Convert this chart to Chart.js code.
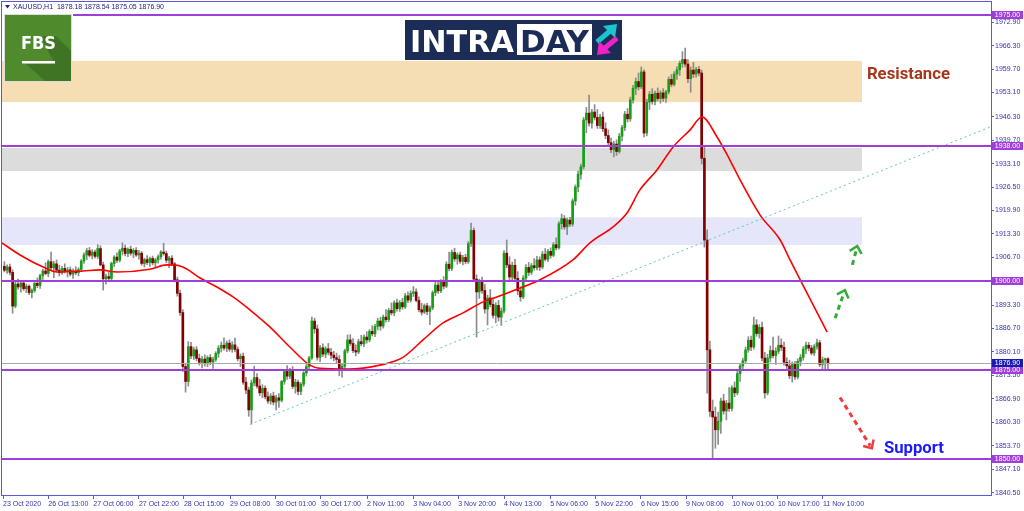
<!DOCTYPE html>
<html>
<head>
<meta charset="utf-8">
<script src="https://cdn.jsdelivr.net/npm/chart.js@4.4.1/dist/chart.umd.min.js"></script>
<style>
html, body { margin: 0; padding: 0; background: #fff; }
</style>
</head>
<body>
<canvas id="xauChart" width="1024" height="511"></canvas>
<script>
// XAUUSD H1, 23 Oct 2020 -> 11 Nov 2020, one entry per hourly bar
const opens = [
1904.2,1903.1,1904.0,1902.5,1893.0,1899.2,1898.4,1899.5,1897.9,1898.6,
1896.8,1897.4,1899.4,1898.8,1901.6,1902.9,1902.2,1905.5,1903.8,1904.9,
1903.1,1902.4,1903.6,1902.8,1903.2,1902.0,1902.9,1902.4,1903.3,1905.7,
1907.4,1908.6,1907.3,1908.2,1907.0,1909.2,1904.6,1900.7,1901.3,1900.8,
1905.0,1906.8,1905.9,1908.5,1909.3,1907.8,1909.0,1907.9,1908.7,1907.4,
1907.9,1905.0,1906.1,1905.3,1906.4,1905.2,1906.0,1906.9,1908.2,1907.8,
1905.9,1906.5,1904.9,1900.4,1896.6,1891.2,1876.0,1871.8,1881.6,1879.0,
1880.7,1878.3,1877.2,1878.1,1876.8,1878.5,1877.3,1878.0,1879.7,1881.2,
1882.0,1881.2,1882.6,1880.9,1882.1,1880.8,1878.2,1878.9,1871.6,1869.4,
1863.8,1871.4,1872.9,1870.5,1868.6,1869.9,1867.5,1866.3,1867.7,1866.0,
1867.2,1866.5,1871.8,1874.6,1873.3,1875.0,1870.4,1871.6,1869.0,1871.0,
1874.2,1876.0,1878.4,1888.8,1886.6,1878.6,1881.3,1879.5,1881.0,1880.0,
1879.2,1878.5,1878.0,1875.0,1876.1,1880.4,1883.5,1882.5,1880.5,1880.1,
1883.0,1882.4,1884.3,1883.5,1885.9,1885.2,1887.3,1888.8,1887.4,1889.9,
1889.2,1891.8,1891.1,1893.9,1892.3,1894.0,1892.8,1895.9,1894.7,1896.6,
1897.0,1894.6,1892.0,1891.3,1893.1,1891.5,1892.5,1896.8,1898.9,1897.3,
1899.8,1898.6,1904.8,1903.6,1908.1,1906.3,1907.4,1905.6,1906.7,1905.5,
1910.6,1914.3,1900.6,1897.0,1899.7,1897.4,1892.2,1895.3,1893.5,1890.4,
1893.2,1889.9,1891.6,1907.9,1904.6,1901.2,1904.5,1900.8,1897.3,1895.6,
1900.9,1903.9,1902.5,1904.4,1903.8,1906.0,1904.0,1907.6,1906.2,1908.4,
1907.3,1910.3,1909.4,1916.2,1917.6,1915.3,1917.2,1916.1,1922.6,1926.5,
1930.1,1932.2,1945.4,1947.3,1944.5,1947.6,1946.1,1943.8,1946.2,1942.9,
1941.0,1939.0,1937.0,1938.6,1936.5,1940.8,1943.2,1947.0,1945.7,1951.0,
1954.3,1956.2,1954.7,1958.9,1941.7,1950.4,1952.6,1950.6,1952.9,1951.4,
1953.0,1951.5,1953.3,1956.8,1955.4,1958.3,1959.5,1961.3,1962.4,1961.1,
1957.0,1959.4,1958.3,1959.6,1958.6,1934.6,1911.6,1880.7,1863.4,1861.8,
1858.2,1860.6,1866.3,1863.5,1865.7,1864.2,1870.0,1868.6,1874.0,1876.2,
1877.6,1880.7,1883.4,1881.5,1887.7,1885.3,1887.0,1878.4,1868.6,1878.4,
1880.5,1879.1,1880.3,1882.0,1881.4,1877.2,1876.2,1873.4,1876.6,1873.1,
1877.5,1878.6,1880.9,1882.0,1881.2,1879.8,1881.6,1882.7,1876.6,1877.9,
1878.18
];
const highs = [
1905.5,1904.6,1904.8,1903.2,1899.8,1900.6,1899.9,1900.2,1899.2,1899.0,
1897.9,1899.8,1900.9,1902.0,1903.4,1905.2,1906.0,1908.2,1905.6,1906.0,
1904.5,1904.2,1904.9,1903.9,1904.0,1903.5,1904.1,1903.8,1906.1,1908.0,
1909.3,1909.5,1908.9,1908.8,1910.3,1910.0,1905.4,1902.0,1902.5,1905.4,
1907.2,1908.0,1909.0,1910.8,1910.2,1909.4,1909.9,1909.2,1909.5,1908.7,
1908.4,1906.5,1907.2,1906.8,1907.1,1906.5,1907.4,1908.6,1910.7,1908.5,
1907.0,1907.2,1905.3,1901.2,1897.5,1892.0,1876.8,1883.0,1882.8,1881.4,
1881.6,1879.5,1878.9,1879.3,1879.0,1879.4,1878.7,1880.2,1881.9,1882.9,
1884.1,1883.2,1883.5,1883.0,1884.0,1881.5,1879.6,1879.8,1873.0,1870.2,
1872.2,1876.1,1874.0,1872.4,1870.9,1870.6,1868.9,1868.4,1868.8,1867.9,
1868.4,1872.1,1875.2,1876.3,1875.5,1876.0,1872.4,1872.2,1871.5,1874.6,
1876.6,1878.9,1889.9,1889.6,1887.7,1882.0,1882.4,1881.6,1882.5,1881.1,
1880.3,1879.8,1879.1,1876.8,1880.9,1884.9,1885.0,1883.9,1882.1,1883.7,
1884.8,1884.9,1885.8,1886.4,1887.5,1887.9,1889.6,1889.9,1890.5,1892.0,
1892.4,1893.9,1894.5,1895.0,1894.6,1895.2,1896.6,1897.0,1897.3,1898.5,
1897.9,1895.6,1893.8,1893.6,1893.8,1893.1,1897.3,1899.7,1900.0,1900.5,
1901.3,1905.5,1908.2,1908.8,1909.3,1908.0,1908.2,1907.3,1907.6,1911.2,
1916.4,1915.0,1901.8,1900.6,1901.2,1899.1,1896.1,1897.7,1895.0,1894.0,
1894.6,1892.5,1908.6,1911.6,1906.9,1905.4,1906.2,1902.7,1898.5,1901.6,
1904.7,1905.3,1905.0,1906.4,1907.0,1906.9,1908.4,1909.2,1909.0,1909.4,
1910.9,1912.2,1916.8,1918.9,1918.5,1917.8,1918.0,1923.2,1927.1,1931.0,
1933.0,1946.1,1948.9,1952.4,1948.4,1949.7,1948.3,1947.0,1947.6,1944.6,
1942.6,1940.3,1939.4,1939.8,1941.6,1943.9,1947.8,1948.6,1951.8,1955.1,
1957.2,1958.6,1960.3,1959.5,1951.2,1953.4,1954.2,1953.5,1954.4,1953.6,
1954.2,1953.7,1957.5,1958.2,1959.0,1960.4,1962.0,1964.6,1965.6,1962.4,
1960.3,1961.6,1960.2,1960.5,1959.4,1938.0,1914.5,1883.2,1866.6,1864.6,
1863.2,1867.1,1868.2,1866.5,1870.1,1870.6,1871.7,1874.8,1876.9,1878.4,
1881.5,1884.4,1884.6,1889.9,1889.2,1887.8,1888.5,1880.0,1879.5,1881.8,
1884.3,1881.3,1884.6,1883.8,1882.9,1878.5,1877.8,1877.3,1877.5,1878.2,
1879.4,1881.6,1882.9,1882.8,1882.0,1882.2,1883.7,1883.4,1878.7,1878.4,
1878.54
];
const lows = [
1902.6,1902.2,1901.8,1891.0,1892.5,1897.8,1896.9,1897.4,1896.8,1896.2,
1895.3,1896.9,1898.2,1898.0,1900.5,1901.8,1901.3,1903.2,1901.0,1902.6,
1901.5,1901.9,1902.3,1901.2,1901.5,1900.8,1901.9,1901.5,1902.8,1905.0,
1906.1,1906.8,1906.3,1906.5,1906.4,1904.3,1897.5,1899.2,1900.0,1900.4,
1904.1,1905.2,1905.4,1907.4,1907.1,1906.9,1907.3,1906.6,1907.0,1906.2,
1904.5,1904.0,1904.7,1904.2,1904.6,1903.9,1905.1,1906.2,1907.3,1905.2,
1903.8,1904.4,1899.8,1895.8,1890.4,1874.6,1868.8,1870.5,1878.2,1878.0,
1877.6,1876.4,1875.6,1876.1,1876.0,1876.5,1875.5,1877.4,1878.6,1880.1,
1880.6,1880.2,1880.3,1880.0,1880.1,1877.6,1876.0,1871.0,1868.4,1862.0,
1859.8,1870.6,1869.9,1867.8,1867.2,1866.9,1865.6,1865.4,1865.2,1863.8,
1864.5,1866.0,1871.0,1872.4,1872.6,1869.8,1868.5,1868.0,1868.1,1870.4,
1873.3,1875.2,1878.0,1885.4,1877.8,1877.4,1878.8,1878.5,1879.3,1878.2,
1877.6,1876.9,1873.4,1873.0,1875.4,1879.8,1881.9,1879.9,1879.0,1879.6,
1881.8,1881.6,1882.6,1882.9,1884.6,1884.4,1886.3,1886.2,1886.8,1888.5,
1888.6,1890.5,1890.3,1891.6,1891.5,1892.1,1892.3,1894.0,1894.1,1895.7,
1894.2,1891.4,1890.5,1890.9,1890.6,1887.8,1892.0,1895.9,1896.6,1896.8,
1897.8,1898.2,1902.9,1903.0,1905.6,1904.8,1905.0,1904.6,1904.9,1905.0,
1909.8,1899.9,1884.3,1895.2,1896.6,1891.0,1887.7,1892.8,1889.6,1888.3,
1888.8,1887.6,1891.0,1903.8,1900.1,1900.4,1900.0,1896.2,1894.4,1895.1,
1900.2,1901.6,1901.9,1903.1,1903.2,1903.0,1903.5,1905.7,1905.5,1906.5,
1906.9,1908.8,1909.0,1914.7,1914.6,1913.1,1915.4,1915.5,1921.4,1925.2,
1928.7,1931.6,1941.8,1943.6,1943.1,1945.4,1943.0,1943.0,1942.1,1940.1,
1938.2,1936.2,1935.0,1935.4,1936.0,1939.5,1942.4,1944.8,1945.0,1950.1,
1952.5,1953.8,1954.2,1940.6,1940.9,1948.3,1949.8,1949.6,1950.7,1950.1,
1950.6,1950.3,1952.7,1954.7,1954.9,1956.8,1957.9,1960.2,1960.3,1955.9,
1953.2,1957.3,1957.4,1957.8,1933.0,1909.6,1868.5,1862.0,1850.3,1853.0,
1854.1,1857.2,1862.6,1861.0,1863.4,1863.5,1867.5,1868.0,1871.8,1875.2,
1876.9,1880.0,1880.5,1880.9,1884.5,1884.0,1877.6,1867.1,1868.0,1877.3,
1878.4,1876.6,1879.6,1880.5,1876.4,1875.0,1872.6,1871.6,1872.4,1872.5,
1876.2,1877.8,1879.6,1880.4,1879.3,1879.1,1880.9,1876.0,1875.1,1874.8,
1875.05
];
const closes = [
1903.1,1904.0,1902.5,1893.0,1899.2,1898.4,1899.5,1897.9,1898.6,1896.8,
1897.4,1899.4,1898.8,1901.6,1902.9,1902.2,1905.5,1903.8,1904.9,1903.1,
1902.4,1903.6,1902.8,1903.2,1902.0,1902.9,1902.4,1903.3,1905.7,1907.4,
1908.6,1907.3,1908.2,1907.0,1909.2,1904.6,1900.7,1901.3,1900.8,1905.0,
1906.8,1905.9,1908.5,1909.3,1907.8,1909.0,1907.9,1908.7,1907.4,1907.9,
1905.0,1906.1,1905.3,1906.4,1905.2,1906.0,1906.9,1908.2,1907.8,1905.9,
1906.5,1904.9,1900.4,1896.6,1891.2,1876.0,1871.8,1881.6,1879.0,1880.7,
1878.3,1877.2,1878.1,1876.8,1878.5,1877.3,1878.0,1879.7,1881.2,1882.0,
1881.2,1882.6,1880.9,1882.1,1880.8,1878.2,1878.9,1871.6,1869.4,1863.8,
1871.4,1872.9,1870.5,1868.6,1869.9,1867.5,1866.3,1867.7,1866.0,1867.2,
1866.5,1871.8,1874.6,1873.3,1875.0,1870.4,1871.6,1869.0,1871.0,1874.2,
1876.0,1878.4,1888.8,1886.6,1878.6,1881.3,1879.5,1881.0,1880.0,1879.2,
1878.5,1878.0,1875.0,1876.1,1880.4,1883.5,1882.5,1880.5,1880.1,1883.0,
1882.4,1884.3,1883.5,1885.9,1885.2,1887.3,1888.8,1887.4,1889.9,1889.2,
1891.8,1891.1,1893.9,1892.3,1894.0,1892.8,1895.9,1894.7,1896.6,1897.0,
1894.6,1892.0,1891.3,1893.1,1891.5,1892.5,1896.8,1898.9,1897.3,1899.8,
1898.6,1904.8,1903.6,1908.1,1906.3,1907.4,1905.6,1906.7,1905.5,1910.6,
1914.3,1900.6,1897.0,1899.7,1897.4,1892.2,1895.3,1893.5,1890.4,1893.2,
1889.9,1891.6,1907.9,1904.6,1901.2,1904.5,1900.8,1897.3,1895.6,1900.9,
1903.9,1902.5,1904.4,1903.8,1906.0,1904.0,1907.6,1906.2,1908.4,1907.3,
1910.3,1909.4,1916.2,1917.6,1915.3,1917.2,1916.1,1922.6,1926.5,1930.1,
1932.2,1945.4,1947.3,1944.5,1947.6,1946.1,1943.8,1946.2,1942.9,1941.0,
1939.0,1937.0,1938.6,1936.5,1940.8,1943.2,1947.0,1945.7,1951.0,1954.3,
1956.2,1954.7,1958.9,1941.7,1950.4,1952.6,1950.6,1952.9,1951.4,1953.0,
1951.5,1953.3,1956.8,1955.4,1958.3,1959.5,1961.3,1962.4,1961.1,1957.0,
1959.4,1958.3,1959.6,1958.6,1934.6,1911.6,1880.7,1863.4,1861.8,1858.2,
1860.6,1866.3,1863.5,1865.7,1864.2,1870.0,1868.6,1874.0,1876.2,1877.6,
1880.7,1883.4,1881.5,1887.7,1885.3,1887.0,1878.4,1868.6,1878.4,1880.5,
1879.1,1880.3,1882.0,1881.4,1877.2,1876.2,1873.4,1876.6,1873.1,1877.5,
1878.6,1880.9,1882.0,1881.2,1879.8,1881.6,1882.7,1876.6,1877.9,1878.2,
1876.90
];

// red moving average, sampled along the curve (bar index, price)
const maIdx = [-0.9, 5.7, 14.1, 19.2, 28.6, 34.8, 41, 53, 59.2, 64, 66.5, 71.3, 77.4, 83.3, 89.5, 96.8, 104, 111.3, 115, 124.8, 136.8, 145.2, 152.5, 159.8, 167.1, 174.4, 179.4, 184.2, 195.1, 207.1, 213.3, 221.7, 226.8, 231.5, 237.7, 243.6, 249.8, 254.1, 259.6, 264.3, 268, 275.3, 282.6, 286.2, 289.9, 299.7];
const maVal = [1910.8, 1907.4, 1904.0, 1902.6, 1902.9, 1903.2, 1902.6, 1903.4, 1904.6, 1904.3, 1903.4, 1900.9, 1898.4, 1895.6, 1891.9, 1887.1, 1881.5, 1876.4, 1875.5, 1875.3, 1876.4, 1878.6, 1883.5, 1888.3, 1891.1, 1894.2, 1895.6, 1897.0, 1900.4, 1906.0, 1910.8, 1915.3, 1919.2, 1925.7, 1931.3, 1937.8, 1942.6, 1946.2, 1940.6, 1934.1, 1928.5, 1918.6, 1911.6, 1906.0, 1900.4, 1885.7];

// dotted trend line (bar index, price)
const trendIdx = [89.5, 359.4];
const trendVal = [1859.75, 1943.5];

// axis ticks
const xTickPos = [-0.5, 16.0, 32.4, 49.0, 65.4, 82.2, 98.9, 115.3, 132.1, 148.9, 165.3, 182.0, 198.8, 215.2, 231.9, 248.3, 265.1, 281.8, 298.2];
const xTickLabels = ['23 Oct 2020', '26 Oct 13:00', '27 Oct 06:00', '27 Oct 22:00', '28 Oct 15:00', '29 Oct 08:00', '30 Oct 01:00', '30 Oct 17:00', '2 Nov 11:00', '3 Nov 04:00', '3 Nov 20:00', '4 Nov 13:00', '5 Nov 06:00', '5 Nov 22:00', '6 Nov 15:00', '9 Nov 08:00', '10 Nov 01:00', '10 Nov 17:00', '11 Nov 10:00'];
const yTicks = [1972.90, 1966.30, 1959.70, 1953.10, 1946.30, 1939.70, 1933.10, 1926.50, 1919.90, 1913.30, 1906.70, 1900.10, 1893.30, 1886.70, 1880.10, 1873.50, 1866.90, 1860.30, 1853.70, 1847.10, 1840.50];

// horizontal levels, zones, bid
const levels = [1975.00, 1938.00, 1900.00, 1875.00, 1850.00];
const levelStartIdx = [25, null, null, null, null];
const zoneLo = [1950.4, 1931.0, 1910.2];
const zoneHi = [1962.0, 1937.5, 1918.0];
const zoneColors = ['rgb(245,222,179)', 'rgb(220,220,220)', 'rgb(230,230,250)'];
const zoneEndIdx = 312.4;
const bidPrice = 1876.90;

// dashed arrows: [fromIdx, fromPrice, toIdx, toPrice]
const arrowsUp = [[302.6, 1889.6, 306.2, 1897.5], [308.9, 1904.6, 310.7, 1909.9]];
const arrowsDown = [[304.4, 1867.3, 316.0, 1853.0]];

const axisColor = '#5a5ad2';
const textColor = '#3434b4';
const levelColor = '#9f3fd9';
const bullColor = '#14a014';
const bearColor = '#820000';
const wickColor = '#8c8c8c';

const wickData = closes.map((c, i) => ({ x: i, y: [lows[i], highs[i]] }));
const bodyData = closes.map((c, i) => ({ x: i, y: [opens[i], c] }));
const bodyColors = closes.map((c, i) => (c >= opens[i] ? bullColor : bearColor));

function drawArrow(c, x0, y0, x1, y1, color, headAng) {
    const ang = Math.atan2(y1 - y0, x1 - x0);
    c.save();
    c.strokeStyle = color;
    c.lineWidth = 3;
    c.setLineDash([5, 4]);
    c.beginPath();
    c.moveTo(x0, y0);
    c.lineTo(x1 - 3 * Math.cos(ang), y1 - 3 * Math.sin(ang));
    c.stroke();
    c.setLineDash([]);
    c.lineWidth = 2.5;
    c.beginPath();
    c.moveTo(x1 - 9 * Math.cos(ang - headAng), y1 - 9 * Math.sin(ang - headAng));
    c.lineTo(x1, y1);
    c.lineTo(x1 - 9 * Math.cos(ang + headAng), y1 - 9 * Math.sin(ang + headAng));
    c.stroke();
    c.restore();
}

const mt4Plugin = {
    id: 'mt4',
    beforeDatasetsDraw(chart) {
        const c = chart.ctx, a = chart.chartArea;
        const xs = chart.scales.x, ys = chart.scales.y;
        c.save();
        const xEnd = xs.getPixelForValue(zoneEndIdx);
        for (let k = 0; k < zoneLo.length; k++) {
            const yTop = ys.getPixelForValue(zoneHi[k]);
            const yBot = ys.getPixelForValue(zoneLo[k]);
            c.fillStyle = zoneColors[k];
            c.fillRect(a.left, yTop, xEnd - a.left, yBot - yTop);
        }
        c.restore();
    },
    afterDatasetsDraw(chart) {
        const c = chart.ctx, a = chart.chartArea;
        const xs = chart.scales.x, ys = chart.scales.y;
        c.save();
        // bid line
        const yb = Math.round(ys.getPixelForValue(bidPrice)) + 0.5;
        c.strokeStyle = '#a8a8a8';
        c.lineWidth = 1;
        c.beginPath();
        c.moveTo(a.left, yb);
        c.lineTo(a.right, yb);
        c.stroke();
        // purple levels
        c.strokeStyle = levelColor;
        c.lineWidth = 2;
        levels.forEach((lv, k) => {
            const y = Math.round(ys.getPixelForValue(lv));
            const x0 = levelStartIdx[k] === null ? a.left : xs.getPixelForValue(levelStartIdx[k]);
            c.beginPath();
            c.moveTo(x0, y);
            c.lineTo(a.right, y);
            c.stroke();
        });
        c.restore();
    },
    afterDraw(chart) {
        const c = chart.ctx, a = chart.chartArea;
        const xs = chart.scales.x, ys = chart.scales.y;
        c.save();
        // frame
        c.strokeStyle = axisColor;
        c.lineWidth = 1;
        c.strokeRect(a.left - 0.5, a.top - 0.5, a.right - a.left + 1, a.bottom - a.top + 1);

        // price tags on the axis
        c.font = '7px "Liberation Sans"';
        c.textAlign = 'center';
        c.textBaseline = 'middle';
        const tag = (val, bg) => {
            const y = ys.getPixelForValue(val);
            c.fillStyle = bg;
            c.fillRect(a.right + 1, Math.round(y) - 4, 31, 8);
            c.fillStyle = '#ffffff';
            c.fillText(val.toFixed(2), a.right + 16.5, Math.round(y) + 0.5);
        };
        levels.forEach(lv => tag(lv, levelColor));
        tag(bidPrice, '#1a1ab0');

        // header
        c.fillStyle = '#22228a';
        c.beginPath();
        c.moveTo(5, 5);
        c.lineTo(10, 5);
        c.lineTo(7.5, 8.5);
        c.closePath();
        c.fill();
        c.textAlign = 'left';
        c.font = '7px "Liberation Sans"';
        c.fillText('XAUUSD,H1  1878.18 1878.54 1875.05 1876.90', 13, 7.5);

        // FBS logo
        c.fillStyle = '#dcdcdc';
        c.fillRect(4, 14, 68, 68);
        c.fillStyle = '#4f8b2d';
        c.fillRect(5, 15, 66, 66);
        c.fillStyle = '#3f7424';
        c.beginPath();
        c.moveTo(40, 36);
        c.lineTo(56, 36);
        c.lineTo(71, 51);
        c.lineTo(71, 81);
        c.lineTo(45, 81);
        c.lineTo(26, 64);
        c.lineTo(55, 64);
        c.closePath();
        c.fill();
        c.fillStyle = '#ffffff';
        c.font = 'bold 17px "DejaVu Sans"';
        c.textBaseline = 'alphabetic';
        c.fillText('FBS', 21, 49, 35);
        c.fillRect(22, 61, 33, 2.5);

        // INTRADAY logo
        c.fillStyle = '#1b2c57';
        c.fillRect(405, 20, 217, 40);
        c.fillStyle = '#ffffff';
        c.fillRect(517, 24, 75, 31);
        c.font = 'bold 31px "DejaVu Sans"';
        c.fillText('INTRA', 410, 52, 104);
        c.fillStyle = '#1b2c57';
        c.fillText('DAY', 520, 52, 69);
        c.lineWidth = 5;
        c.strokeStyle = '#19c6d0';
        c.beginPath(); c.moveTo(597, 42); c.lineTo(610, 31); c.stroke();
        c.fillStyle = '#19c6d0';
        c.beginPath(); c.moveTo(617, 24); c.lineTo(603, 26); c.lineTo(615, 38); c.closePath(); c.fill();
        c.strokeStyle = '#ee22c8';
        c.beginPath(); c.moveTo(617, 38); c.lineTo(605, 48); c.stroke();
        c.fillStyle = '#ee22c8';
        c.beginPath(); c.moveTo(597, 55); c.lineTo(611, 53); c.lineTo(599, 41); c.closePath(); c.fill();

        // arrows
        arrowsUp.forEach(p => drawArrow(c, xs.getPixelForValue(p[0]), ys.getPixelForValue(p[1]), xs.getPixelForValue(p[2]), ys.getPixelForValue(p[3]), '#37ab37', 0.75));
        arrowsDown.forEach(p => drawArrow(c, xs.getPixelForValue(p[0]), ys.getPixelForValue(p[1]), xs.getPixelForValue(p[2]), ys.getPixelForValue(p[3]), '#f03c3c', 0.75));

        // zone captions
        c.textBaseline = 'middle';
        c.font = 'bold 17px "Roboto"';
        c.fillStyle = '#a8361a';
        c.fillText('Resistance', xs.getPixelForValue(314.2), ys.getPixelForValue(1958.0), 83);
        c.fillStyle = '#1a1aff';
        c.fillText('Support', xs.getPixelForValue(320.4), ys.getPixelForValue(1852.8), 60);
        c.restore();
    }
};

const ctx = document.getElementById('xauChart');

new Chart(ctx,
{
    type: 'bar',
    data:
    {
        datasets: [
            {
                type: 'line',
                label: 'Trend',
                data: trendIdx.map((x, i) => ({ x: x, y: trendVal[i] })),
                borderColor: '#5cc6c6',
                borderWidth: 1,
                borderDash: [2, 3],
                pointRadius: 0,
                order: 0
            },
            {
                type: 'line',
                label: 'MA',
                data: maIdx.map((x, i) => ({ x: x, y: maVal[i] })),
                borderColor: '#ff0000',
                borderWidth: 1.6,
                pointRadius: 0,
                cubicInterpolationMode: 'monotone',
                order: 1
            },
            {
                label: 'Body',
                data: bodyData,
                backgroundColor: bodyColors,
                borderWidth: 0,
                barThickness: 2,
                minBarLength: 1,
                grouped: false,
                order: 2
            },
            {
                label: 'Wick',
                data: wickData,
                backgroundColor: wickColor,
                borderWidth: 0,
                barThickness: 1,
                grouped: false,
                order: 3
            }
        ]
    },
    options:
    {
        responsive: false,
        animation: false,
        devicePixelRatio: 1,
        layout: { padding: { left: 2, top: 2, right: 0, bottom: 0 } },
        plugins:
        {
            legend: { display: false },
            tooltip: { enabled: false }
        },
        scales:
        {
            x:
            {
                type: 'linear',
                min: -0.87,
                max: 359.4,
                offset: false,
                grid: { drawOnChartArea: false, offset: false, color: axisColor, tickLength: 4 },
                border: { color: axisColor },
                afterBuildTicks: s => { s.ticks = xTickPos.map(v => ({ value: v })); },
                afterFit: s => { s.height = 16; s.paddingLeft = 0; s.paddingRight = 0; },
                ticks:
                {
                    autoSkip: false,
                    maxRotation: 0,
                    align: 'start',
                    padding: 1,
                    color: textColor,
                    font: { family: 'Liberation Sans', size: 7 },
                    callback: (v, i) => xTickLabels[i]
                }
            },
            y:
            {
                position: 'right',
                min: 1839.86,
                max: 1978.57,
                grid: { drawOnChartArea: false, color: axisColor, tickLength: 3 },
                border: { color: axisColor },
                afterBuildTicks: s => { s.ticks = yTicks.map(v => ({ value: v })); },
                afterFit: s => { s.width = 33; s.paddingTop = 0; s.paddingBottom = 0; },
                ticks:
                {
                    padding: 1,
                    color: textColor,
                    font: { family: 'Liberation Sans', size: 7 },
                    callback: v => v.toFixed(2)
                }
            }
        }
    },
    plugins: [mt4Plugin]
});
</script>
</body>
</html>
